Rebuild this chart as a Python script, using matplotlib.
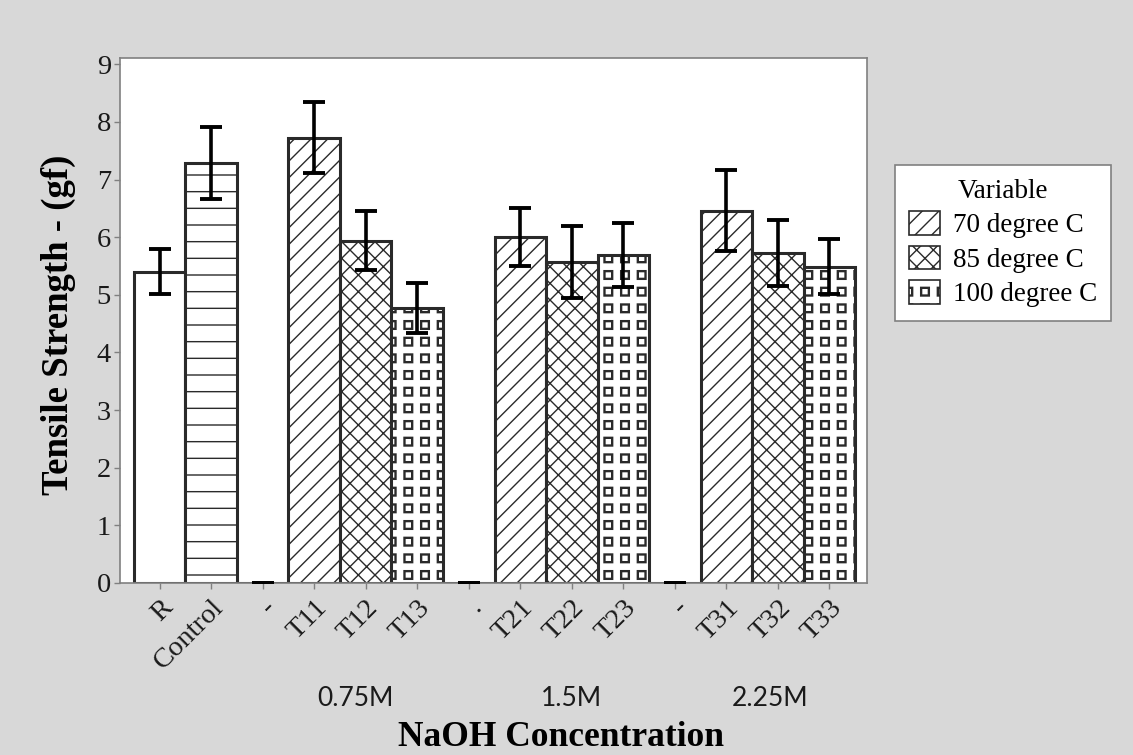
import warnings
import numpy as np
import matplotlib
matplotlib.use('Agg')
import matplotlib.pyplot as plt
from matplotlib import hatch as mhatch
from matplotlib import transforms as mtrans
from matplotlib.path import Path
from matplotlib.patches import Patch


labels = ['R', 'Control', '-', 'T11', 'T12', 'T13', '.', 'T21', 'T22', 'T23',
          '-', 'T31', 'T32', 'T33']
strength = [5.40, 7.29, 0, 7.73, 5.94, 4.77, 0, 6.00, 5.57, 5.69, 0, 6.46, 5.73, 5.49]
errors = [0.39, 0.63, 0, 0.62, 0.51, 0.43, 0, 0.50, 0.62, 0.55, 0, 0.70, 0.57, 0.48]
groups = ['0.75M', '1.5M', '2.25M']
group_pos = [3.8, 8.0, 11.85]
temps = ['70 degree C', '85 degree C', '100 degree C']

# 's' is not a built-in hatch, it is added below
warnings.filterwarnings('ignore', message='hatch must consist')


# small open squares, like the minitab pattern (no such hatch in matplotlib)
class SquareGrid(mhatch.HatchPatternBase):
    def __init__(self, hatch, density):
        self.num_rows = hatch.count('s') * density
        self.num_vertices = self.num_rows ** 2 * 10

    def set_vertices_and_codes(self, vertices, codes):
        n = self.num_rows
        h = 0.26 / n
        sq = np.array([[-h, -h], [h, -h], [h, h], [-h, h], [-h, -h]])
        ring = np.concatenate([sq, sq[::-1] * 0.78])
        rc = [Path.MOVETO] + [Path.LINETO] * 3 + [Path.CLOSEPOLY]
        rc = np.array(rc * 2)
        vs, cs = [], []
        for i in range(n):
            for j in range(n):
                vs.append(ring + [(i + 0.5) / n, (j + 0.5) / n])
                cs.append(rc)
        vertices[:] = np.concatenate(vs)
        codes[:] = np.concatenate(cs)


mhatch._hatch_types.append(SquareGrid)

SERIF = ['Liberation Serif', 'DejaVu Serif']
plt.rcParams['font.family'] = SERIF
plt.rcParams['hatch.linewidth'] = 1.0
plt.rcParams['hatch.color'] = '#3a3a3a'

temp_hatch = {'70': '//', '85': 'xx', '100': 's'}
hatches = []
for lab in labels:
    if lab == 'Control':
        hatches.append('-')
    elif lab.startswith('T'):
        hatches.append(temp_hatch[['70', '85', '100'][int(lab[2]) - 1]])
    else:
        hatches.append('')

bg = '#d8d8d8'
fig = plt.figure(figsize=(11.33, 7.55), dpi=100, facecolor=bg)
ax = fig.add_axes([120 / 1133, 1 - 583 / 755, 747 / 1133, 525 / 755])

x = np.arange(len(labels))
for xi, v, hh in zip(x, strength, hatches):
    ax.bar(xi, v, width=1.0, color='white', edgecolor='#2a2a2a',
           linewidth=2.2, hatch=hh, zorder=2)
ax.errorbar(x, strength, yerr=errors, fmt='none', ecolor='black',
            elinewidth=2.6, capsize=8, capthick=2.8, zorder=3)

ax.set_xlim(-0.77, 13.73)
ax.set_ylim(0, 9.11)
ax.set_yticks(range(10))
ax.set_xticks(x)
ax.set_xticklabels(labels, rotation=45, ha='right', rotation_mode='anchor')
for s in ax.spines.values():
    s.set_color('#808080')
    s.set_linewidth(1.2)
ax.tick_params(axis='both', colors='#808080', labelcolor='#1a1a1a',
               length=4.5, width=1.0, labelsize=20.5, pad=2)
ax.tick_params(axis='x', pad=4)

tr = mtrans.blended_transform_factory(ax.transData, fig.transFigure)
for g, gp in zip(groups, group_pos):
    ax.text(gp, 1 - 699 / 755, g, transform=tr, ha='center', va='center',
            fontsize=19, family='Lato', color='#1a1a1a')

fig.text(561 / 1133, 1 - 738 / 755, 'NaOH Concentration', ha='center',
         va='center', fontsize=25.5, fontweight='bold')
fig.text(58 / 1133, 1 - 325 / 755, 'Tensile Strength - (gf)', ha='center',
         va='center', rotation=90, fontsize=26.5, fontweight='bold')

handles = [Patch(facecolor='white', edgecolor='#2a2a2a', hatch=temp_hatch[k],
                 linewidth=1.2) for k in ['70', '85', '100']]
leg = ax.legend(handles, temps, title='Variable', loc='upper left',
                bbox_to_anchor=(1.0375, 0.796), fontsize=19.5, title_fontsize=19.5,
                fancybox=False, edgecolor='#808080', framealpha=1,
                handlelength=1.15, handleheight=0.95, labelspacing=0.28,
                borderpad=0.5, handletextpad=0.5, borderaxespad=0)
leg.get_frame().set_linewidth(1.2)

fig.savefig('out.png', dpi=100, facecolor=bg)
